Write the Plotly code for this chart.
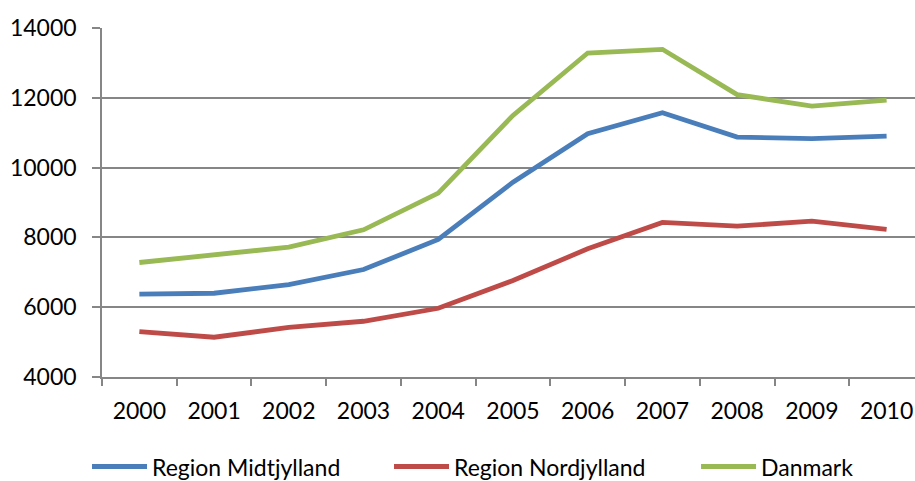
import plotly.graph_objects as go

years = ["2000", "2001", "2002", "2003", "2004", "2005", "2006", "2007", "2008", "2009", "2010"]
midtjylland = [6372, 6400, 6650, 7080, 7940, 9584, 10970, 11574, 10874, 10828, 10903]
nordjylland = [5302, 5139, 5420, 5597, 5970, 6765, 7674, 8428, 8322, 8465, 8227]
danmark = [7281, 7500, 7720, 8218, 9268, 11496, 13283, 13389, 12090, 11763, 11935]

series = [
    ("Region Midtjylland", midtjylland, "#4A7EBB", "legend"),
    ("Region Nordjylland", nordjylland, "#BE4B48", "legend"),
    ("Danmark", danmark, "#98B954", "legend2"),
]

FONT = "Lato, 'Open Sans', sans-serif"

fig = go.Figure()
for name, vals, col, lg in series:
    fig.add_trace(go.Scatter(x=years, y=vals, name=name, mode="lines", legend=lg,
                             line=dict(color=col, width=4.8)))

legend_common = dict(orientation="h", xref="container", yref="container",
                     xanchor="left", y=0.03, yanchor="middle",
                     itemwidth=55, entrywidth=232, entrywidthmode="pixels",
                     font=dict(size=23), bgcolor="rgba(0,0,0,0)")

fig.update_layout(
    width=915, height=481,
    margin=dict(l=102, r=0, t=28, b=104, autoexpand=False),
    paper_bgcolor="white", plot_bgcolor="white",
    font=dict(family=FONT, size=23, color="#000000"),
    showlegend=True,
    legend=dict(x=0.0951, **legend_common),
    legend2=dict(x=0.7607, **legend_common),
)
fig.update_xaxes(
    type="category", range=[-0.5, 10.38], automargin=False,
    showgrid=False, showline=True, linecolor="#868686", linewidth=1.5,
    ticks="outside", tickson="boundaries", ticklen=7, tickcolor="#868686", tickwidth=1.5,
    tickfont=dict(size=23), ticklabelstandoff=13, fixedrange=True,
)
fig.update_yaxes(
    range=[4000, 14000], dtick=2000, tick0=4000, tickformat="d", automargin=False,
    showgrid=True, gridcolor="#868686", gridwidth=1.5,
    showline=True, linecolor="#868686", linewidth=1.5,
    ticks="outside", ticklen=8, tickcolor="#868686", tickwidth=1.5,
    tickfont=dict(size=23), ticklabelstandoff=11, zeroline=False,
)

fig.write_html(
    "out.html",
    config={"displayModeBar": False},
    post_script="document.body.style.margin='0';document.body.style.overflow='hidden';",
)
